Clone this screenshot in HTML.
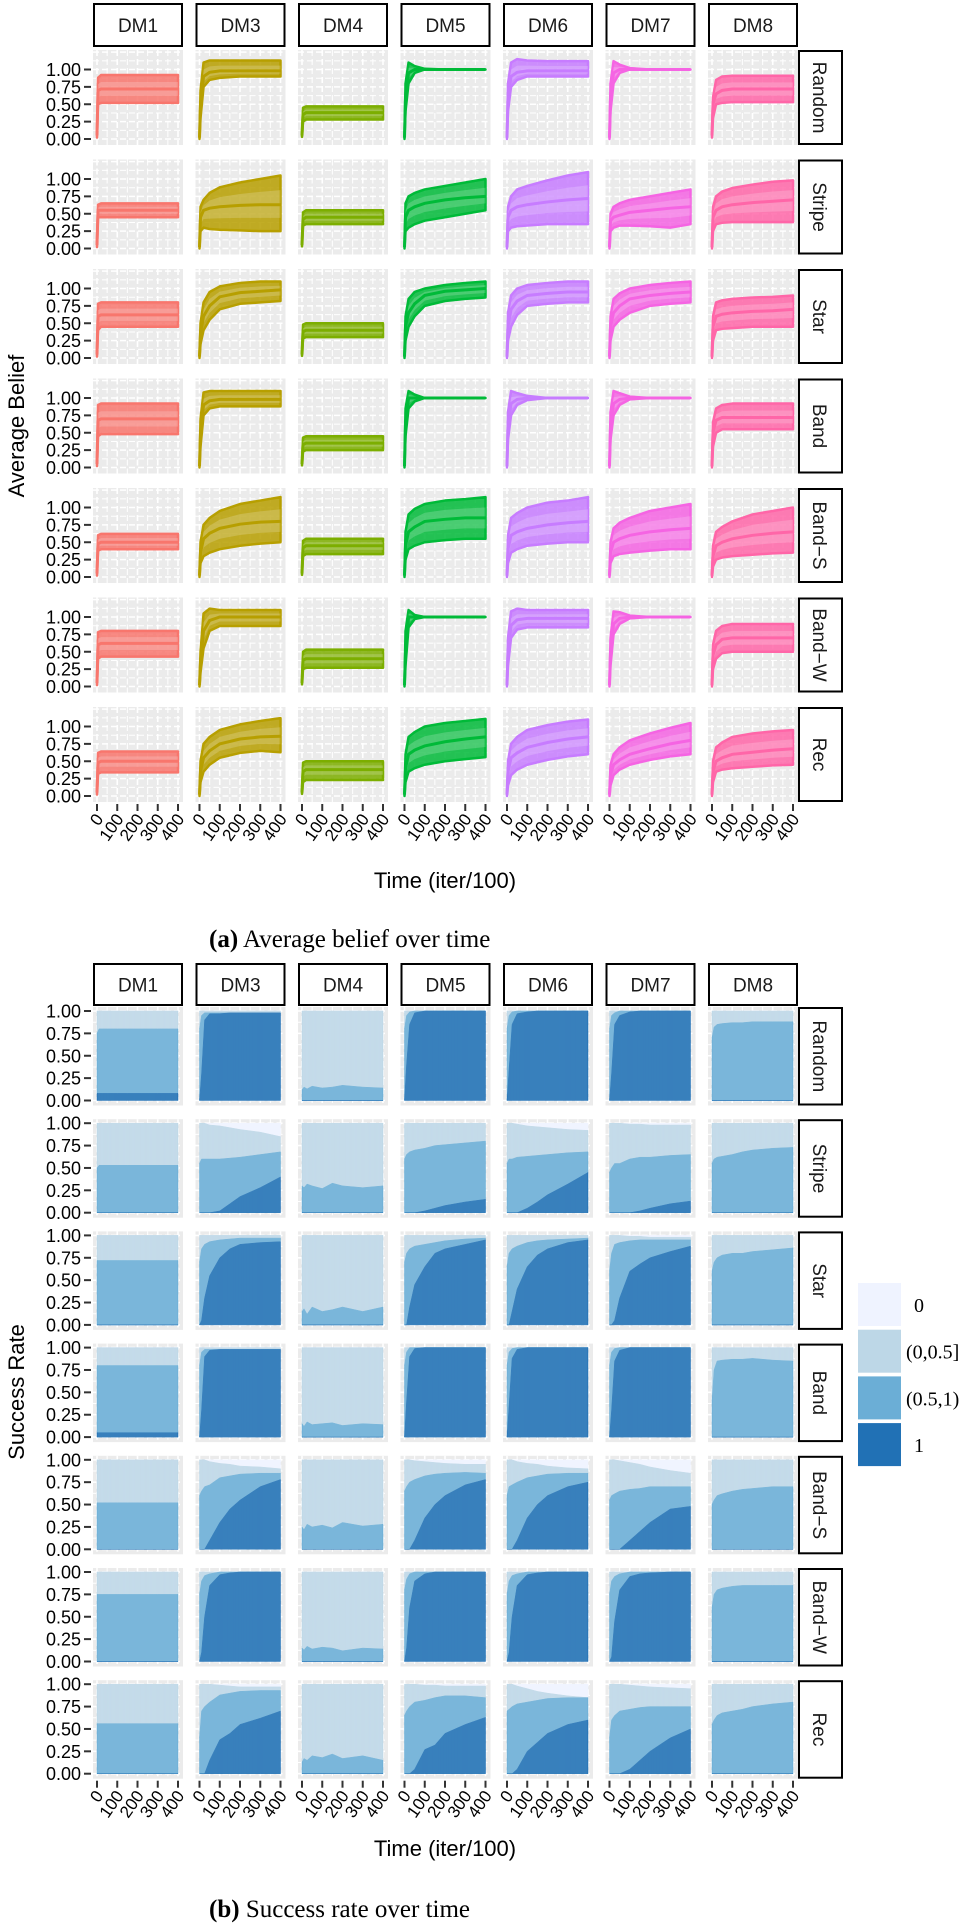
<!DOCTYPE html>
<html><head><meta charset="utf-8"><title>Average belief and success rate</title>
<style>
html,body{margin:0;padding:0;background:#fff;}
svg{display:block;font-family:"Liberation Sans",sans-serif;}
.serif{font-family:"Liberation Serif",serif;}
</style></head>
<body>
<svg id="fig" width="969" height="1928" viewBox="0 0 969 1928" xmlns="http://www.w3.org/2000/svg">
<text x="0" y="0" transform="translate(24,426) rotate(-90)" text-anchor="middle" font-size="22" fill="#000">Average Belief</text>
<text x="445" y="888" text-anchor="middle" font-size="22" fill="#000">Time (iter/100)</text>
<text class="serif" x="209" y="947" font-size="25" fill="#000"><tspan font-weight="bold">(a)</tspan> Average belief over time</text>
<text x="0" y="0" transform="translate(24,1392) rotate(-90)" text-anchor="middle" font-size="22" fill="#000">Success Rate</text>
<text x="445" y="1856" text-anchor="middle" font-size="22" fill="#000">Time (iter/100)</text>
<text class="serif" x="209" y="1917" font-size="25" fill="#000"><tspan font-weight="bold">(b)</tspan> Success rate over time</text>
</svg>
<script>
const cols=["DM1","DM3","DM4","DM5","DM6","DM7","DM8"];
const rows=["Random","Stripe","Star","Band","Band\u2212S","Band\u2212W","Rec"];
const colors=["#F8766D","#B79F00","#7CAE00","#00BA38","#C77CFF","#F564E3","#FF66A8"];
const yTicks=[0,0.25,0.5,0.75,1];
const yTickLabels=["0.00","0.25","0.50","0.75","1.00"];
const xTicks=[0,100,200,300,400];
const xTickLabels=["0","100","200","300","400"];
const T=[0,5,20,50,100,200,300,400];
const TB=[0,10,25,50,100,150,200,300,400];
const legendLabels=["0","(0,0.5]","(0.5,1)","1"];
const legendColors=["#EFF3FF","#BDD7E7","#6BAED6","#2171B5"];

const beliefLo=[
[[.02,.5,.52,.52,.52,.52,.52,.52],[0,.3,.75,.85,.88,.9,.9,.9],[.03,.25,.28,.28,.28,.28,.28,.28],[0,.4,.8,.95,1,1,1,1],[0,.4,.75,.85,.9,.9,.9,.9],[0,.4,.8,.95,1,1,1,1],[.02,.3,.5,.52,.53,.53,.53,.53]],
[[.02,.45,.45,.45,.45,.45,.45,.45],[0,.25,.3,.28,.27,.26,.25,.25],[.03,.33,.35,.35,.35,.35,.35,.35],[0,.25,.3,.35,.4,.45,.5,.55],[0,.25,.3,.32,.33,.35,.35,.35],[0,.25,.3,.33,.33,.32,.3,.35],[0,.25,.35,.37,.38,.38,.38,.38]],
[[.02,.4,.45,.45,.45,.45,.45,.45],[0,.2,.4,.55,.7,.78,.8,.82],[.03,.28,.3,.3,.3,.3,.3,.3],[0,.25,.45,.6,.75,.82,.85,.87],[0,.25,.45,.62,.75,.78,.8,.8],[0,.25,.45,.55,.65,.75,.78,.8],[0,.25,.4,.42,.43,.45,.45,.45]],
[[.02,.45,.48,.48,.48,.48,.48,.48],[0,.3,.75,.85,.88,.88,.88,.88],[.03,.23,.25,.25,.25,.25,.25,.25],[0,.45,.85,.95,1,1,1,1],[0,.4,.75,.9,.97,1,1,1],[0,.4,.75,.9,.98,1,1,1],[0,.3,.5,.55,.55,.55,.55,.55]],
[[.02,.38,.4,.4,.4,.4,.4,.4],[0,.2,.3,.35,.4,.45,.48,.5],[.03,.3,.33,.33,.33,.33,.33,.33],[0,.25,.4,.45,.5,.53,.55,.55],[0,.2,.35,.4,.45,.48,.5,.5],[0,.2,.3,.33,.35,.38,.4,.4],[0,.15,.25,.28,.3,.32,.34,.35]],
[[.02,.4,.43,.43,.43,.43,.43,.43],[0,.2,.55,.8,.87,.87,.87,.87],[.03,.25,.27,.27,.27,.27,.27,.27],[0,.3,.85,.97,1,1,1,1],[0,.3,.7,.82,.85,.85,.85,.85],[0,.3,.75,.9,.98,1,1,1],[0,.25,.4,.48,.5,.5,.5,.5]],
[[.02,.32,.34,.34,.34,.34,.34,.34],[0,.2,.35,.45,.55,.62,.65,.63],[.03,.2,.23,.23,.23,.23,.23,.23],[0,.2,.35,.4,.45,.5,.53,.56],[0,.15,.3,.38,.45,.52,.57,.6],[0,.15,.3,.38,.45,.52,.57,.6],[0,.2,.35,.38,.4,.42,.44,.45]]
];
const beliefMid=[
[[.05,.7,.72,.72,.72,.72,.72,.72],[.02,.5,.9,.96,.98,.98,.98,.98],[.05,.35,.38,.38,.38,.38,.38,.38],[.02,.6,.95,1,1,1,1,1],[.02,.6,.9,.96,.98,.98,.98,.98],[.02,.6,.95,1,1,1,1,1],[.05,.5,.65,.7,.72,.72,.72,.72]],
[[.05,.55,.55,.55,.55,.55,.55,.55],[.02,.45,.55,.58,.6,.62,.63,.63],[.05,.42,.45,.45,.45,.45,.45,.45],[.02,.45,.55,.6,.65,.7,.73,.75],[.02,.45,.55,.6,.63,.67,.7,.72],[.02,.4,.45,.48,.52,.55,.58,.6],[.02,.45,.55,.6,.63,.66,.68,.7]],
[[.05,.6,.62,.62,.62,.62,.62,.62],[.02,.35,.6,.75,.88,.94,.96,.98],[.05,.38,.4,.4,.4,.4,.4,.4],[.02,.45,.65,.78,.9,.96,.98,1],[.02,.45,.7,.82,.9,.93,.95,.95],[.02,.45,.65,.75,.85,.9,.93,.95],[.02,.45,.6,.63,.65,.67,.68,.7]],
[[.05,.68,.7,.7,.7,.7,.7,.7],[.02,.5,.9,.96,.98,.98,.98,.98],[.05,.33,.35,.35,.35,.35,.35,.35],[.02,.65,1,1,1,1,1,1],[.02,.6,.92,.98,1,1,1,1],[.02,.6,.92,.98,1,1,1,1],[.02,.5,.68,.72,.72,.72,.72,.72]],
[[.05,.48,.5,.5,.5,.5,.5,.5],[.02,.35,.55,.63,.7,.76,.79,.8],[.05,.42,.45,.45,.45,.45,.45,.45],[.02,.45,.65,.72,.8,.83,.85,.85],[.02,.4,.6,.65,.7,.75,.78,.8],[.02,.35,.5,.55,.6,.65,.68,.7],[.02,.3,.45,.5,.55,.6,.63,.65]],
[[.05,.6,.62,.62,.62,.62,.62,.62],[.02,.35,.8,.95,1,1,1,1],[.05,.38,.4,.4,.4,.4,.4,.4],[.02,.5,1,1,1,1,1,1],[.02,.5,.88,.96,.98,.98,.98,.98],[.02,.5,.9,.98,1,1,1,1],[.02,.45,.6,.68,.7,.7,.7,.7]],
[[.05,.48,.5,.5,.5,.5,.5,.5],[.02,.35,.55,.65,.75,.82,.85,.86],[.05,.35,.38,.38,.38,.38,.38,.38],[.02,.4,.6,.66,.72,.78,.82,.85],[.02,.35,.55,.62,.7,.77,.82,.85],[.02,.3,.45,.52,.6,.68,.75,.8],[.02,.35,.5,.55,.6,.63,.66,.68]]
];
const beliefHi=[
[[.1,.88,.92,.92,.92,.92,.92,.92],[.05,.7,1.1,1.13,1.13,1.13,1.13,1.13],[.08,.45,.47,.47,.47,.47,.47,.47],[.05,.8,1.1,1.05,1.01,1,1,1],[.05,.8,1.1,1.15,1.13,1.12,1.12,1.12],[.05,.8,1.12,1.07,1.02,1,1,1],[.1,.6,.85,.9,.91,.91,.91,.91]],
[[.1,.63,.65,.65,.65,.65,.65,.65],[.05,.6,.7,.8,.88,.95,1,1.05],[.08,.52,.55,.55,.55,.55,.55,.55],[.05,.65,.75,.8,.85,.9,.95,1],[.05,.6,.75,.85,.9,.98,1.05,1.1],[.05,.5,.6,.65,.7,.75,.8,.85],[.05,.6,.75,.82,.87,.92,.96,.98]],
[[.1,.78,.8,.8,.8,.8,.8,.8],[.05,.5,.8,.95,1.03,1.08,1.1,1.1],[.08,.48,.5,.5,.5,.5,.5,.5],[.05,.6,.85,.95,1,1.05,1.08,1.1],[.05,.65,.9,1,1.05,1.08,1.1,1.1],[.05,.6,.85,.93,1,1.05,1.08,1.1],[.05,.6,.8,.83,.85,.87,.88,.9]],
[[.1,.9,.92,.92,.92,.92,.92,.92],[.05,.7,1.08,1.1,1.1,1.1,1.1,1.1],[.08,.43,.45,.45,.45,.45,.45,.45],[.05,.85,1.1,1.05,1,1,1,1],[.05,.8,1.1,1.07,1.03,1,1,1],[.05,.8,1.1,1.07,1.02,1,1,1],[.05,.65,.85,.9,.92,.92,.92,.92]],
[[.1,.6,.62,.62,.62,.62,.62,.62],[.05,.5,.75,.85,.95,1.05,1.1,1.15],[.08,.52,.55,.55,.55,.55,.55,.55],[.05,.65,.9,.98,1.05,1.1,1.12,1.15],[.05,.6,.85,.92,1,1.07,1.1,1.15],[.05,.5,.7,.78,.85,.95,1,1.05],[.05,.45,.65,.72,.8,.9,.95,1]],
[[.1,.78,.8,.8,.8,.8,.8,.8],[.05,.5,1.05,1.12,1.1,1.1,1.1,1.1],[.08,.5,.53,.53,.53,.53,.53,.53],[.05,.8,1.1,1.03,1,1,1,1],[.05,.7,1.08,1.12,1.1,1.1,1.1,1.1],[.05,.7,1.08,1.07,1.02,1,1,1],[.05,.6,.8,.87,.9,.9,.9,.9]],
[[.1,.62,.64,.64,.64,.64,.64,.64],[.05,.5,.75,.85,.95,1.03,1.08,1.12],[.08,.48,.5,.5,.5,.5,.5,.5],[.05,.6,.85,.92,1,1.05,1.08,1.11],[.05,.5,.75,.85,.95,1.02,1.07,1.1],[.05,.45,.6,.7,.8,.9,.98,1.05],[.05,.5,.7,.77,.85,.9,.93,.95]]
];

const Z=[0,0,0,0,0,0,0,0,0];
const ONE=[1,1,1,1,1,1,1,1,1];
/* cumulative share: c1 = "1", c2 = "1"+"(0.5,1)", c3 = c2+"(0,0.5]" (rest is "0") */
const succC1=[
[[.08,.08,.08,.08,.08,.08,.08,.08,.08],[0,.3,.9,.97,.97,.98,.98,.98,.98],Z,[0,.4,.85,.98,1,1,1,1,1],[0,.35,.85,.97,.99,1,1,1,1],[0,.3,.85,.95,.99,1,1,1,1],Z],
[Z,[0,0,0,0,.02,.1,.18,.28,.4],Z,[0,0,0,0,.02,.05,.08,.12,.15],[0,0,0,0,.05,.12,.2,.32,.45],[0,0,0,0,0,.02,.05,.1,.13],Z],
[Z,[0,.05,.3,.55,.75,.85,.9,.92,.93],Z,[0,0,.2,.45,.65,.8,.85,.9,.95],[0,0,.15,.4,.65,.78,.85,.92,.95],[0,0,.05,.3,.6,.68,.75,.82,.88],Z],
[[.05,.05,.05,.05,.05,.05,.05,.05,.05],[0,.3,.9,.97,.98,.98,.98,.98,.98],Z,[0,.4,.9,.99,1,1,1,1,1],[0,.35,.88,.98,1,1,1,1,1],[0,.3,.85,.97,1,1,1,1,1],Z],
[Z,[0,0,0,.1,.3,.45,.55,.7,.78],Z,[0,0,0,.1,.35,.5,.6,.72,.78],[0,0,0,.1,.35,.5,.6,.7,.75],[0,0,0,0,.1,.2,.3,.45,.48],Z],
[Z,[0,.1,.5,.85,.97,.99,1,1,1],Z,[0,.15,.6,.9,.98,1,1,1,1],[0,.1,.5,.85,.97,.99,1,1,1],[0,.05,.45,.8,.95,.98,.99,1,1],Z],
[Z,[0,0,0,.15,.38,.45,.55,.62,.7],Z,[0,0,0,.05,.27,.32,.45,.55,.63],[0,0,0,.05,.25,.35,.45,.55,.6],[0,0,0,0,.05,.15,.25,.4,.5],Z]
];
const succC2=[
[[.75,.8,.8,.8,.8,.8,.8,.8,.8],[.8,.95,.98,.98,.98,.98,.98,.98,.98],[.12,.15,.13,.16,.14,.15,.17,.15,.14],[.8,.95,.99,1,1,1,1,1,1],[.8,.95,.99,1,1,1,1,1,1],[.8,.95,.98,1,1,1,1,1,1],[.7,.82,.85,.86,.87,.87,.88,.88,.88]],
[[.5,.53,.53,.53,.53,.53,.53,.53,.53],[.55,.6,.6,.6,.6,.61,.62,.65,.68],[.3,.28,.32,.3,.27,.33,.3,.28,.3],[.6,.65,.68,.7,.72,.75,.76,.78,.8],[.55,.6,.6,.62,.63,.64,.65,.67,.68],[.45,.5,.55,.55,.6,.62,.62,.64,.65],[.55,.6,.62,.63,.65,.68,.7,.72,.73]],
[[.72,.72,.72,.72,.72,.72,.72,.72,.72],[.7,.85,.9,.93,.95,.96,.97,.97,.97],[.15,.18,.12,.2,.15,.17,.2,.15,.2],[.7,.8,.85,.88,.9,.92,.94,.96,.97],[.65,.8,.85,.88,.92,.94,.95,.96,.97],[.6,.8,.9,.92,.94,.95,.95,.95,.95],[.6,.7,.75,.78,.8,.8,.82,.84,.86]],
[[.8,.8,.8,.8,.8,.8,.8,.8,.8],[.8,.95,.98,.98,.98,.98,.98,.98,.98],[.15,.12,.17,.14,.15,.16,.13,.15,.14],[.8,.95,1,1,1,1,1,1,1],[.8,.95,.99,1,1,1,1,1,1],[.8,.95,.99,1,1,1,1,1,1],[.4,.75,.85,.86,.87,.87,.88,.86,.85]],
[[.52,.52,.52,.52,.52,.52,.52,.52,.52],[.6,.65,.7,.72,.8,.82,.84,.85,.85],[.25,.22,.28,.25,.27,.24,.3,.26,.28],[.65,.7,.75,.78,.82,.84,.85,.86,.85],[.6,.7,.72,.75,.8,.82,.84,.85,.85],[.55,.6,.62,.65,.67,.68,.7,.7,.7],[.5,.55,.6,.62,.65,.67,.68,.7,.7]],
[[.75,.75,.75,.75,.75,.75,.75,.75,.75],[.75,.9,.96,.98,1,1,1,1,1],[.15,.13,.17,.14,.16,.15,.12,.15,.14],[.8,.92,.98,1,1,1,1,1,1],[.75,.9,.96,.98,1,1,1,1,1],[.75,.9,.95,.98,1,1,1,1,1],[.6,.75,.8,.82,.84,.85,.85,.85,.85]],
[[.56,.56,.56,.56,.56,.56,.56,.56,.56],[.4,.7,.75,.8,.88,.9,.92,.93,.93],[.13,.17,.15,.2,.18,.22,.17,.2,.15],[.65,.7,.75,.8,.82,.85,.87,.87,.85],[.7,.72,.75,.78,.8,.82,.84,.85,.85],[.4,.6,.65,.7,.72,.74,.75,.75,.75],[.55,.6,.65,.68,.7,.72,.75,.78,.8]]
];
const succC3=[
[ONE,ONE,ONE,ONE,ONE,ONE,ONE],
[ONE,[1,1,1,.98,.97,.95,.93,.9,.85],ONE,ONE,[1,1,1,.99,.97,.96,.95,.93,.92],[1,1,1,1,.99,.99,.98,.98,.98],ONE],
[ONE,ONE,ONE,ONE,ONE,[1,1,1,1,.99,.99,.98,.98,.98],ONE],
[ONE,ONE,ONE,ONE,ONE,ONE,ONE],
[ONE,[1,1,1,.98,.96,.95,.93,.92,.9],ONE,[1,1,1,.99,.98,.97,.96,.95,.95],[1,1,1,.98,.96,.95,.93,.91,.9],[1,1,1,.99,.97,.95,.92,.88,.85],ONE],
[ONE,ONE,ONE,ONE,ONE,ONE,ONE],
[ONE,[1,1,1,1,.99,.98,.97,.97,.97],ONE,[1,1,1,1,.99,.99,.98,.98,.98],[1,1,1,.98,.95,.92,.9,.87,.85],[1,1,1,1,.99,.98,.97,.96,.95],ONE]
];

const NS="http://www.w3.org/2000/svg";
const svg=document.getElementById("fig");
function mk(tag,attrs,parent){const e=document.createElementNS(NS,tag);for(const k in attrs)e.setAttribute(k,attrs[k]);(parent||svg).appendChild(e);return e;}
const colX=j=>93+102.5*j;
const PW=90;
const xScale=(j,t)=>colX(j)+4+t/400*81;
const rowTopA=i=>50+109.5*i;
const yA=(i,v)=>rowTopA(i)+89-v*69.5;
const rowTopB=i=>1007+112.2*i;
const yB=(i,v)=>rowTopB(i)+93.5-v*89.5;

function grid(g,x0,y0,h,yfun,i,j){
  const bg=mk("rect",{x:x0,y:y0,width:PW,height:h,fill:"#EBEBEB"},g);
  
  
  for(let t=0;t<=400;t+=50){const x=xScale(j,t);
    const l=mk("line",{x1:x,x2:x,y1:y0,y2:y0+h,stroke:"#fff","stroke-width":t%100?1:1.6,"stroke-dasharray":"6 3"},g);
    
    }
  for(let v=0;v<=1.25;v+=0.125){const y=yfun(i,v); if(y<y0||y>y0+h)continue;
    const l=mk("line",{x1:x0,x2:x0+PW,y1:y,y2:y,stroke:"#fff","stroke-width":(v*4)%1?1:1.6,"stroke-dasharray":"6 3"},g);
    
    }
}
function strips(yTop,yBot){
  cols.forEach((c,j)=>{
    const g=mk("g",{});
    
    
    mk("rect",{x:colX(j)+1,y:yTop+1,width:PW-2,height:yBot-yTop-2,fill:"#fff",stroke:"#000","stroke-width":2},g);
    const t=mk("text",{x:colX(j)+PW/2,y:(yTop+yBot)/2+7,"text-anchor":"middle","font-size":19,fill:"#1a1a1a"},g);
    t.textContent=c;
  });
}
function rowStrip(i,y0,h){
  const g=mk("g",{});
  
  
  mk("rect",{x:799,y:y0+1,width:43,height:h-2,fill:"#fff",stroke:"#000","stroke-width":2},g);
  const t=mk("text",{x:0,y:0,transform:`translate(${813},${y0+h/2}) rotate(90)`,"text-anchor":"middle","font-size":19,fill:"#1a1a1a"},g);
  t.textContent=rows[i];
}
function yAxis(i,yfun){
  yTicks.forEach((v,k)=>{
    const y=yfun(i,v);
    const l=mk("line",{x1:84,x2:91,y1:y,y2:y,stroke:"#333","stroke-width":2});
    
    
    const t=mk("text",{x:81,y:y+6.5,"text-anchor":"end","font-size":18,fill:"#000"});
    
    
    t.textContent=yTickLabels[k];
  });
}
function xAxis(yb){
  cols.forEach((c,j)=>{
    xTicks.forEach((tv,k)=>{
      const x=xScale(j,tv);
      const l=mk("line",{x1:x,x2:x,y1:yb+2,y2:yb+9,stroke:"#333","stroke-width":2});
      
      
      const t=mk("text",{x:0,y:0,transform:`translate(${x+7},${yb+17}) rotate(-55)`,"text-anchor":"end","font-size":17,fill:"#000"});
      
      
      t.textContent=xTickLabels[k];
    });
  });
}

/* ---------- (a) average belief ---------- */
strips(3,47);
rows.forEach((r,i)=>{
  const y0=rowTopA(i),h=95;
  rowStrip(i,y0,h);
  yAxis(i,yA);
  cols.forEach((c,j)=>{
    const g=mk("g",{});
    
    
    grid(g,colX(j),y0,h,yA,i,j);
    const lo=beliefLo[i][j],mid=beliefMid[i][j],hi=beliefHi[i][j];
    const up=T.map((t,k)=>`${xScale(j,t)},${yA(i,hi[k])}`);
    const dn=T.map((t,k)=>`${xScale(j,t)},${yA(i,lo[k])}`).reverse();
    const rib=mk("polygon",{points:up.concat(dn).join(" "),fill:colors[j],"fill-opacity":0.85,stroke:colors[j],"stroke-width":2.5,"stroke-linejoin":"round"},g);
    
    
    const iu=T.map((t,k)=>`${xScale(j,t)},${yA(i,(mid[k]+hi[k])/2)}`);
    const id=T.map((t,k)=>`${xScale(j,t)},${yA(i,(mid[k]+lo[k])/2)}`).reverse();
    const inner=mk("polygon",{points:iu.concat(id).join(" "),fill:"#fff","fill-opacity":0.18},g);
    
    
    const ln=mk("polyline",{points:T.map((t,k)=>`${xScale(j,t)},${yA(i,mid[k])}`).join(" "),fill:"none",stroke:colors[j],"stroke-width":3},g);
    
    
  });
});
xAxis(rowTopA(6)+95);

/* ---------- (b) success rate ---------- */
strips(963,1006);
const layers=[
  {name:"layer-zero",color:legendColors[0],top:()=>ONE,bot:(i,j)=>succC3[i][j]},
  {name:"layer-low",color:legendColors[1],top:(i,j)=>succC3[i][j],bot:(i,j)=>succC2[i][j]},
  {name:"layer-high",color:legendColors[2],top:(i,j)=>succC2[i][j],bot:(i,j)=>succC1[i][j]},
  {name:"layer-one",color:legendColors[3],top:(i,j)=>succC1[i][j],bot:()=>Z}
];
rows.forEach((r,i)=>{
  const y0=rowTopB(i),h=98.5;
  rowStrip(i,y0,h);
  yAxis(i,yB);
  cols.forEach((c,j)=>{
    const g=mk("g",{});
    
    
    grid(g,colX(j),y0,h,yB,i,j);
    layers.forEach(L=>{
      const tp=L.top(i,j),bt=L.bot(i,j);
      const up=TB.map((t,k)=>`${xScale(j,t)},${yB(i,tp[k])}`);
      const dn=TB.map((t,k)=>`${xScale(j,t)},${yB(i,bt[k])}`).reverse();
      const p=mk("polygon",{points:up.concat(dn).join(" "),fill:L.color,stroke:L.color,"stroke-width":0.5},g);
      
      
    });
    for(let t=5;t<400;t+=5){
      const x=xScale(j,t);
      const s=mk("line",{x1:x,x2:x,y1:yB(i,1),y2:yB(i,0),stroke:"#fff","stroke-opacity":0.18,"stroke-width":0.6},g);
      
      
    }
  });
});
xAxis(rowTopB(6)+98.5);

/* legend */
const lg=mk("g",{});


legendLabels.forEach((lab,k)=>{
  const y=1283+46.7*k;
  const r=mk("rect",{x:858,y:y,width:43,height:43,fill:legendColors[k]},lg);
  
  
  const t=mk("text",{x:k===0||k===3?914:906,y:y+29,"font-size":20,fill:"#000",class:"serif"},lg);
  
  
  t.textContent=lab;
});
</script>
</body></html>
